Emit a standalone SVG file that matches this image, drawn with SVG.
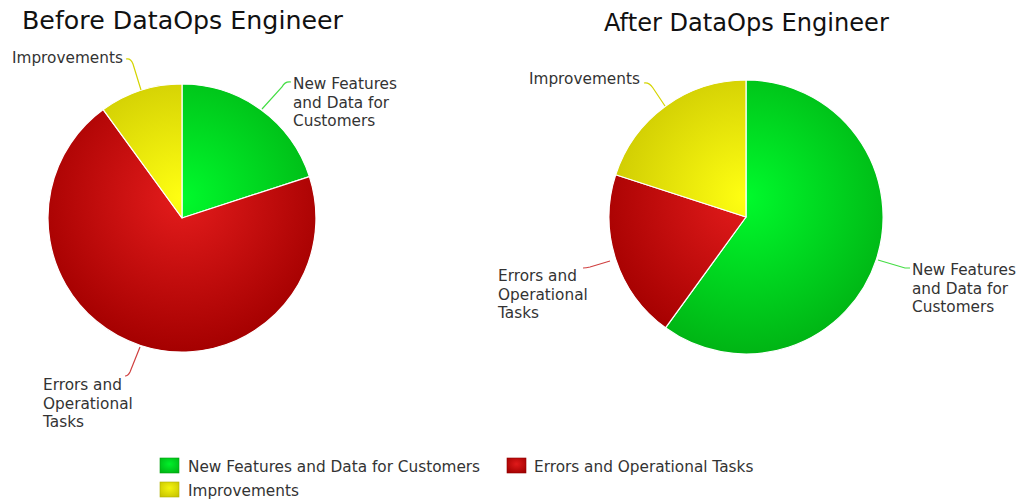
<svg xmlns="http://www.w3.org/2000/svg" width="1026" height="501" viewBox="0 0 1026 501">
  <style>
    .title { font-family: "DejaVu Sans", Verdana, sans-serif; fill: #111; }
    .lbl { font-family: "DejaVu Sans", Verdana, sans-serif; font-size: 15.3px; fill: #333; }
    .slice { stroke: #fff; stroke-width: 1.2; stroke-linejoin: round; }
    .conn { fill: none; stroke-width: 1.2; }
    .c-green { stroke: #44dd44; }
    .c-red { stroke: #d04040; }
    .c-yellow { stroke: #d4d400; }
    .key { stroke-width: 0.6; }
  </style>
  <defs>
    <!-- Left pie: centre 182,218 r 134 -->
    <radialGradient id="gL-green" gradientUnits="userSpaceOnUse" cx="182" cy="198" r="155">
      <stop offset="0" stop-color="#00fa2c"/>
      <stop offset="1" stop-color="#00b414"/>
    </radialGradient>
    <radialGradient id="gL-red" gradientUnits="userSpaceOnUse" cx="182" cy="198" r="155">
      <stop offset="0" stop-color="#e41c1c"/>
      <stop offset="1" stop-color="#a40000"/>
    </radialGradient>
    <radialGradient id="gL-yellow" gradientUnits="userSpaceOnUse" cx="182" cy="198" r="155">
      <stop offset="0" stop-color="#ffff12"/>
      <stop offset="1" stop-color="#c8c400"/>
    </radialGradient>
    <!-- Right pie: centre 746,217 r 137 -->
    <radialGradient id="gR-green" gradientUnits="userSpaceOnUse" cx="746" cy="197" r="158">
      <stop offset="0" stop-color="#00fa2c"/>
      <stop offset="1" stop-color="#00b414"/>
    </radialGradient>
    <radialGradient id="gR-red" gradientUnits="userSpaceOnUse" cx="746" cy="197" r="158">
      <stop offset="0" stop-color="#e41c1c"/>
      <stop offset="1" stop-color="#a40000"/>
    </radialGradient>
    <radialGradient id="gR-yellow" gradientUnits="userSpaceOnUse" cx="746" cy="197" r="158">
      <stop offset="0" stop-color="#ffff12"/>
      <stop offset="1" stop-color="#c8c400"/>
    </radialGradient>
    <!-- Legend keys -->
    <radialGradient id="k-green" cx="0.5" cy="0.4" r="0.7">
      <stop offset="0" stop-color="#00f02a"/>
      <stop offset="1" stop-color="#00b414"/>
    </radialGradient>
    <radialGradient id="k-red" cx="0.5" cy="0.4" r="0.7">
      <stop offset="0" stop-color="#e01a1a"/>
      <stop offset="1" stop-color="#a00000"/>
    </radialGradient>
    <radialGradient id="k-yellow" cx="0.5" cy="0.4" r="0.7">
      <stop offset="0" stop-color="#f4f410"/>
      <stop offset="1" stop-color="#c8c400"/>
    </radialGradient>
  </defs>

  <rect width="1026" height="501" fill="#fff"/>

  <text class="title" x="22" y="29" font-size="25.3">Before DataOps Engineer</text>
  <text class="title" x="604" y="31" font-size="24.1">After DataOps Engineer</text>

  <!-- Left pie slices -->
  <g id="before-new-features">
    <path class="slice" fill="url(#gL-green)" d="M182,218 L182,84 A134,134 0 0 1 309.4,176.6 Z"/>
    <text class="lbl" x="293" y="89">New Features</text>
    <text class="lbl" x="293" y="108">and Data for</text>
    <text class="lbl" x="293" y="126">Customers</text>
  </g>
  <g id="before-errors">
    <path class="slice" fill="url(#gL-red)" d="M182,218 L309.4,176.6 A134,134 0 1 1 103.2,109.6 Z"/>
    <text class="lbl" x="43" y="390">Errors and</text>
    <text class="lbl" x="43" y="409">Operational</text>
    <text class="lbl" x="43" y="427">Tasks</text>
  </g>
  <g id="before-improvements">
    <path class="slice" fill="url(#gL-yellow)" d="M182,218 L103.2,109.6 A134,134 0 0 1 182,84 Z"/>
    <text class="lbl" x="12" y="63">Improvements</text>
  </g>

  <!-- Right pie slices -->
  <g id="after-new-features">
    <path class="slice" fill="url(#gR-green)" d="M746,217 L746,80 A137,137 0 1 1 665.5,327.8 Z"/>
    <text class="lbl" x="912" y="275">New Features</text>
    <text class="lbl" x="912" y="294">and Data for</text>
    <text class="lbl" x="912" y="312">Customers</text>
  </g>
  <g id="after-errors">
    <path class="slice" fill="url(#gR-red)" d="M746,217 L665.5,327.8 A137,137 0 0 1 615.7,174.7 Z"/>
    <text class="lbl" x="498" y="281">Errors and</text>
    <text class="lbl" x="498" y="300">Operational</text>
    <text class="lbl" x="498" y="318">Tasks</text>
  </g>
  <g id="after-improvements">
    <path class="slice" fill="url(#gR-yellow)" d="M746,217 L615.7,174.7 A137,137 0 0 1 746,80 Z"/>
    <text class="lbl" x="529" y="84">Improvements</text>
  </g>

  <!-- Label connectors -->
  <g id="connectors">
    <path class="conn c-green" d="M291,82 Q285,81 282,87 L262,109"/>
    <path class="conn c-yellow" d="M126,59 Q131,58 133,64 L141,90"/>
    <path class="conn c-red" d="M140,347 L130,372 Q128,376 125,376"/>
    <path class="conn c-yellow" d="M644,83 Q649,82 653,88 L665,106"/>
    <path class="conn c-red" d="M610,261 L590,267 Q586,268 583,268"/>
    <path class="conn c-green" d="M878,260 L905,268 Q907,268 910,268"/>
  </g>

  <!-- Legend -->
  <g id="legend-new-features">
    <rect class="key" x="160" y="458" width="19" height="15" fill="url(#k-green)" stroke="#00a010"/>
    <text class="lbl" x="188" y="472">New Features and Data for Customers</text>
  </g>
  <g id="legend-errors">
    <rect class="key" x="507" y="458" width="19" height="15" fill="url(#k-red)" stroke="#900000"/>
    <text class="lbl" x="534" y="472">Errors and Operational Tasks</text>
  </g>
  <g id="legend-improvements">
    <rect class="key" x="160" y="482" width="19" height="15" fill="url(#k-yellow)" stroke="#b0b000"/>
    <text class="lbl" x="188" y="496">Improvements</text>
  </g>
</svg>
